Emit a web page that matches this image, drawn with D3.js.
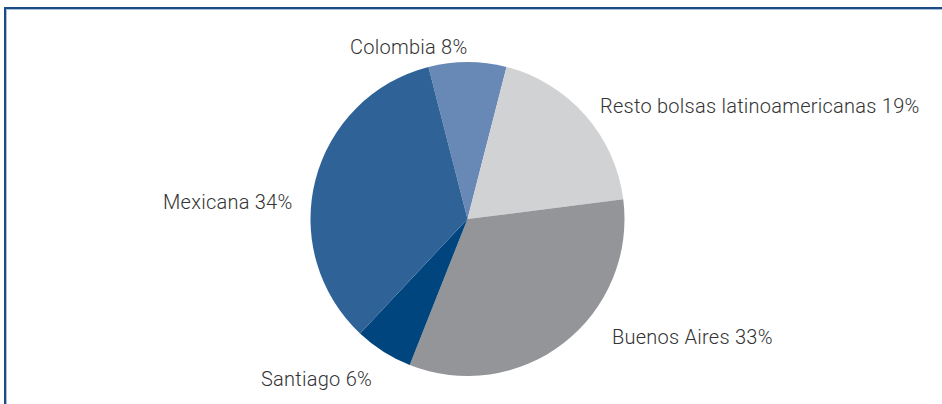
<!DOCTYPE html>
<html>
<head>
<meta charset="utf-8">
<script src="https://cdn.jsdelivr.net/npm/d3@7"></script>
<style>
  html, body { margin: 0; padding: 0; background: #fff; }
  svg { display: block; }
</style>
</head>
<body>
<svg id="chart" width="942" height="404"></svg>
<script>
// Market share of Latin American stock exchanges
const markets = ["Colombia", "Resto bolsas latinoamericanas", "Buenos Aires", "Santiago", "Mexicana"];
const shares = [8, 19, 33, 6, 34];
const colors = ["#6888b6", "#d1d2d4", "#939598", "#00457d", "#2f6398"];
// label anchor points (left edge of text, baseline)
const labelX = [350, 600, 612, 261, 163];
const labelY = [54, 113, 344, 386, 209];

const svg = d3.select("#chart");

// frame: dark top and left rules with a light inner edge
svg.append("path")
  .attr("d", "M5.5,404 V8.5 H942")
  .attr("fill", "none").attr("stroke", "#a9c0d8").attr("stroke-width", 3);
svg.append("path")
  .attr("d", "M5,404 V8 H942")
  .attr("fill", "none").attr("stroke", "#1b4d84").attr("stroke-width", 2);

const cx = 467.5, cy = 219, r = 157;
const startDeg = -14.4;

const pie = d3.pie()
  .sort(null)
  .value(d => d.value)
  .startAngle(startDeg * Math.PI / 180)
  .endAngle((startDeg + 360) * Math.PI / 180);

const data = markets.map((m, i) => ({ name: m, value: shares[i], color: colors[i], lx: labelX[i], ly: labelY[i] }));
const arc = d3.arc().innerRadius(0).outerRadius(r);

const g = svg.append("g").attr("transform", `translate(${cx},${cy})`);
g.selectAll("path.slice")
  .data(pie(data))
  .join("path")
  .attr("class", "slice")
  .attr("d", arc)
  .attr("fill", d => d.data.color);

svg.selectAll("text.label")
  .data(data)
  .join("text")
  .attr("class", "label")
  .attr("x", d => d.lx)
  .attr("y", d => d.ly)
  .attr("font-family", "Roboto, 'DejaVu Sans', sans-serif")
  .attr("font-weight", 300)
  .attr("font-size", 20)
  .attr("letter-spacing", 0.25)
  .attr("fill", "#333")
  .text(d => `${d.name} ${d.value}%`);
</script>
</body>
</html>
